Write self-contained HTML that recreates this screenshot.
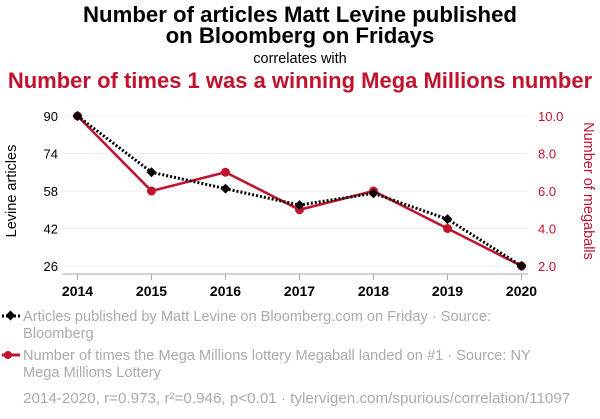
<!DOCTYPE html>
<html><head><meta charset="utf-8"><style>
body{margin:0;background:#fff;width:600px;height:414px;overflow:hidden;font-family:"Liberation Sans",sans-serif}
</style></head><body>
<svg id="chart" width="600" height="414" xmlns="http://www.w3.org/2000/svg" font-family="Liberation Sans, sans-serif">
<text x="300" y="22" text-anchor="middle" font-size="22.2" font-weight="bold" fill="#000">Number of articles Matt Levine published</text>
<text x="300" y="43" text-anchor="middle" font-size="22.2" font-weight="bold" fill="#000">on Bloomberg on Fridays</text>
<text x="300" y="63" text-anchor="middle" font-size="14.5" fill="#000">correlates with</text>
<text x="300" y="88" text-anchor="middle" font-size="22" font-weight="bold" fill="#c0132e">Number of times 1 was a winning Mega Millions number</text>
<g id="grid"></g>
<g id="axes"></g>
<g id="series"></g>
<text transform="translate(16,191) rotate(-90)" text-anchor="middle" font-size="14.5" fill="#000">Levine articles</text>
<text transform="translate(584,191) rotate(90)" text-anchor="middle" font-size="14.5" fill="#c0132e">Number of megaballs</text>
<g>
<line x1="2" y1="316" x2="20" y2="316" stroke="#000" stroke-width="3" stroke-dasharray="2,2"/>
<rect x="7" y="312" width="7" height="7" transform="rotate(45 10.5 315.5)" fill="#000"/>
<text x="23" y="321" font-size="14.6" fill="#aaa">Articles published by Matt Levine on Bloomberg.com on Friday · Source:</text>
<text x="23" y="338" font-size="14.6" fill="#aaa">Bloomberg</text>
</g>
<g>
<line x1="2" y1="355" x2="20" y2="355" stroke="#c0132e" stroke-width="3"/>
<circle cx="8" cy="355" r="4" fill="#c0132e"/>
<text x="23" y="360" font-size="14.6" fill="#aaa">Number of times the Mega Millions lottery Megaball landed on #1 · Source: NY</text>
<text x="23" y="377" font-size="14.6" fill="#aaa">Mega Millions Lottery</text>
</g>
<text x="23" y="403" font-size="15.2" fill="#aaa">2014-2020, r=0.973, r²=0.946, p&lt;0.01 · tylervigen.com/spurious/correlation/11097</text>
</svg>
<script>
const years=[2014,2015,2016,2017,2018,2019,2020];
const levine=[90,66,59,52,57,46,26];
const megaballs=[10,6,7,5,6,4,2];
const leftTicks=[26,42,58,74,90];
const rightTicks=["2.0","4.0","6.0","8.0","10.0"];
const NS="http://www.w3.org/2000/svg";
const x=y=>77.5+(y-2014)*(521.5-77.5)/6;
const yl=v=>266-(v-26)*150/64;
const yr=v=>266-(v-2)*150/8;
function mk(t,a,p){const e=document.createElementNS(NS,t);for(const k in a)e.setAttribute(k,a[k]);p.appendChild(e);return e;}
const grid=document.getElementById('grid'),axes=document.getElementById('axes'),ser=document.getElementById('series');
leftTicks.forEach((t,i)=>{
 const g=mk('line',{x1:62,x2:528,y1:yl(t),y2:yl(t),stroke:'#eee','stroke-width':1},grid);
 
 
 const tl=mk('text',{x:58,y:yl(t)+5,'text-anchor':'end','font-size':13,fill:'#000'},axes);tl.textContent=t;
 
 
 const tr=mk('text',{x:538,y:yr(parseFloat(rightTicks[i]))+5,'font-size':13,fill:'#c0132e'},axes);tr.textContent=rightTicks[i];
 
 
});
const ax=mk('line',{x1:62,x2:528,y1:274,y2:274,stroke:'#aaa','stroke-width':1},axes);


years.forEach(y=>{
 mk('line',{x1:x(y),x2:x(y),y1:274,y2:280,stroke:'#aaa'},axes);
 const t=mk('text',{x:x(y),y:296,'text-anchor':'middle','font-size':14,'font-weight':'bold',fill:'#000'},axes);t.textContent=y;
 
 
});
const rp=mk('polyline',{points:years.map((y,i)=>x(y)+','+yr(megaballs[i])).join(' '),fill:'none',stroke:'#c0132e','stroke-width':2.5},ser);


years.forEach((y,i)=>{const c=mk('circle',{cx:x(y),cy:yr(megaballs[i]),r:4.5,fill:'#c0132e'},ser);
 
 });
const bp=mk('polyline',{points:years.map((y,i)=>x(y)+','+yl(levine[i])).join(' '),fill:'none',stroke:'#000','stroke-width':3,'stroke-dasharray':'2,2'},ser);


years.forEach((y,i)=>{const cx=x(y),cy=yl(levine[i]);
 const r=mk('rect',{x:cx-3.5,y:cy-3.5,width:7,height:7,fill:'#000',transform:`rotate(45 ${cx} ${cy})`},ser);
 
 });
</script>
</body></html>
